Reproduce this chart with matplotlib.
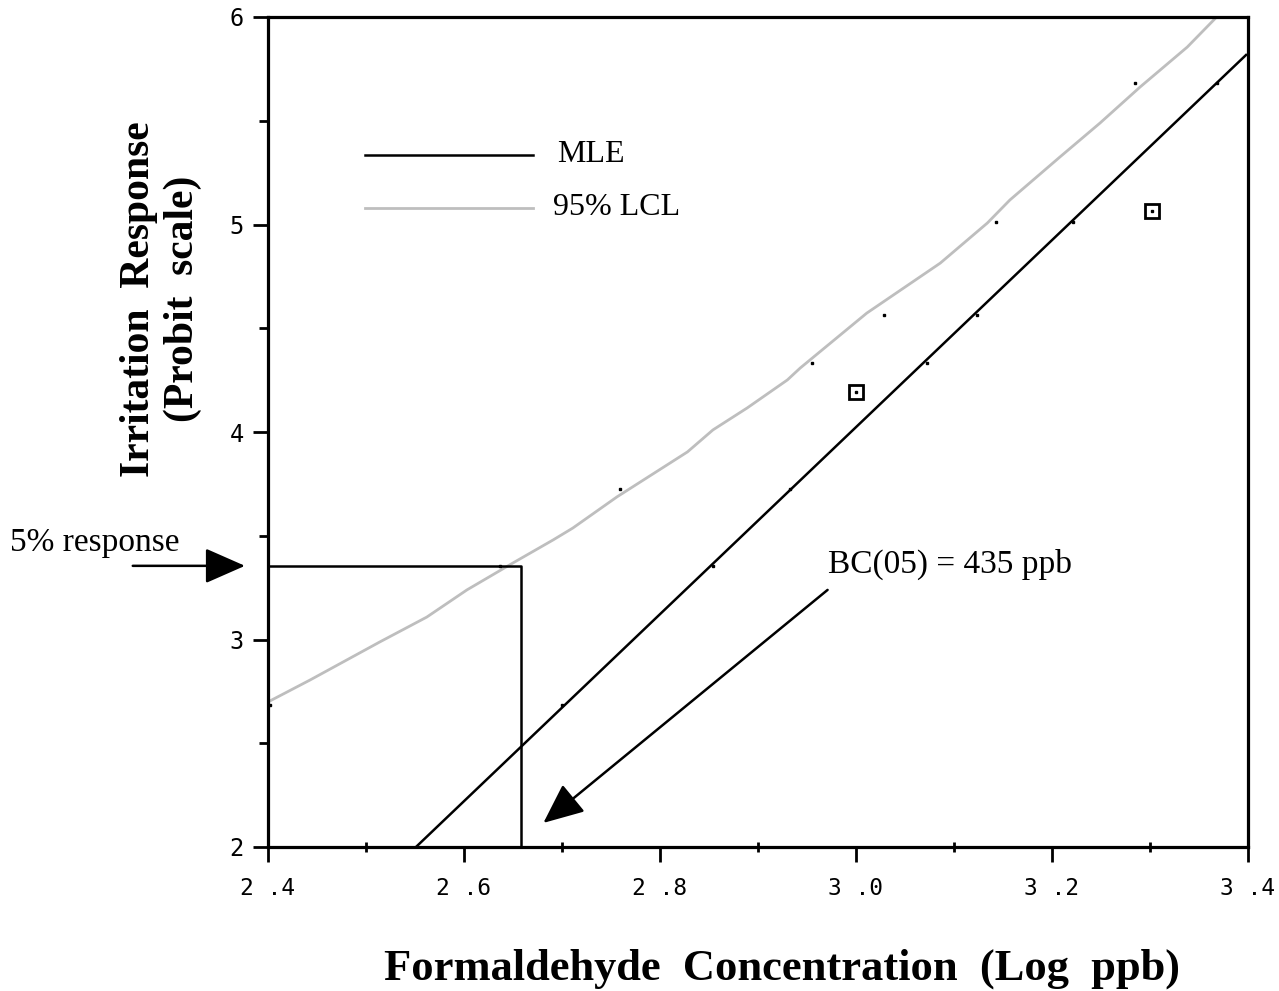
import numpy as np
import matplotlib.pyplot as plt
from matplotlib.ticker import FixedLocator

# --- data ---
mle_x = [2.551, 3.398]
mle_y = [2.0, 5.817]

lcl_x = [2.400, 2.443, 2.514, 2.562, 2.603, 2.650, 2.691, 2.711, 2.756, 2.828, 2.854,
         2.889, 2.930, 2.943, 3.011, 3.086, 3.134, 3.157, 3.208, 3.249, 3.290, 3.338, 3.368]
lcl_y = [2.699, 2.805, 2.988, 3.108, 3.239, 3.369, 3.480, 3.537, 3.687, 3.904, 4.010,
         4.116, 4.251, 4.308, 4.573, 4.814, 5.007, 5.118, 5.325, 5.489, 5.663, 5.855, 6.000]

obs_x = [3.000, 3.302]
obs_y = [4.193, 5.065]

# small dots (pairs on LCL / MLE at the same response level)
dot_x = [2.402, 2.700, 2.637, 2.854, 2.759, 2.933, 2.955, 3.072, 3.029, 3.123, 3.143, 3.221, 3.285, 3.368]
dot_y = [2.684, 2.684, 3.354, 3.354, 3.725, 3.725, 4.333, 4.333, 4.564, 4.564, 5.012, 5.012, 5.682, 5.682]

resp5_y = 3.355       # probit of 5% response
bc05_x = 2.658        # log ppb at BC(05)

x_ticks = [2.4, 2.6, 2.8, 3.0, 3.2, 3.4]
x_labels = ['2 .4', '2 .6', '2 .8', '3 .0', '3 .2', '3 .4']
x_minor = [2.5, 2.7, 2.9, 3.1, 3.3]
y_ticks = [2, 3, 4, 5, 6]
y_minor = [2.5, 3.5, 4.5, 5.5]

serif = 'Liberation Serif'
mono = 'DejaVu Sans Mono'

fig = plt.figure(figsize=(12.79, 9.91), dpi=100)
ax = fig.add_axes([268/1279, 1-847/991, 980/1279, 830/991])

ax.plot(lcl_x, lcl_y, color='#bebebe', lw=2.0, zorder=2, solid_joinstyle='round')
ax.plot(mle_x, mle_y, color='black', lw=1.8, zorder=3)
ax.plot(dot_x, dot_y, 's', color='black', ms=2.0, zorder=4)
ax.plot(obs_x, obs_y, 's', mfc='none', mec='black', mew=2.0, ms=10, zorder=4)
ax.plot(obs_x, obs_y, 's', color='black', ms=2.0, zorder=5)

# 5% response box
ax.plot([2.4, bc05_x, bc05_x], [resp5_y, resp5_y, 2.0], color='black', lw=1.8, zorder=3)

ax.set_xlim(2.4, 3.4)
ax.set_ylim(2, 6)

for s in ax.spines.values():
    s.set_linewidth(2.3)

ax.set_xticks(x_ticks)
ax.set_xticklabels(x_labels, fontfamily=mono, fontsize=16.5)
ax.xaxis.set_minor_locator(FixedLocator(x_minor))
ax.set_yticks(y_ticks)
ax.set_yticklabels([str(v) for v in y_ticks], fontfamily=mono, fontsize=17)
ax.yaxis.set_minor_locator(FixedLocator(y_minor))
ax.tick_params(axis='x', which='major', direction='out', length=10.5, width=2, pad=11)
ax.tick_params(axis='x', which='minor', direction='inout', length=7.5, width=2)
ax.tick_params(axis='y', which='major', direction='out', length=10.5, width=2, pad=7)
ax.tick_params(axis='y', which='minor', direction='out', length=6.5, width=2)

# legend drawn by hand
ax.plot([0.099, 0.270], [0.834, 0.834], transform=ax.transAxes, color='black', lw=1.8)
ax.plot([0.099, 0.270], [0.770, 0.770], transform=ax.transAxes, color='#bebebe', lw=2.0)
ax.text(0.295, 0.834, 'MLE', transform=ax.transAxes, fontfamily=serif, fontsize=23, va='center')
ax.text(0.291, 0.770, '95% LCL', transform=ax.transAxes, fontfamily=serif, fontsize=23, va='center')

# annotations
ax.text(2.971, 3.36, 'BC(05) = 435 ppb', fontfamily=serif, fontsize=24, va='center', ha='left')
ax.annotate('', xy=(2.681, 2.116), xytext=(2.971, 3.239),
            arrowprops=dict(arrowstyle='-|>,head_length=1.25,head_width=0.55', mutation_scale=20,
                            color='black', lw=1.8, shrinkA=0, shrinkB=0))
ax.text(2.137, 3.468, '5% response', fontfamily=serif, fontsize=24, va='center', ha='left',
        clip_on=False)
ax.annotate('', xy=(2.3765, resp5_y), xytext=(2.262, resp5_y), annotation_clip=False,
            arrowprops=dict(arrowstyle='-|>,head_length=1.25,head_width=0.55', mutation_scale=20,
                            color='black', lw=1.8, shrinkA=0, shrinkB=0))

fig.text(782/1279, 1-969/991, 'Formaldehyde  Concentration  (Log  ppb)', fontfamily=serif,
         fontweight='bold', fontsize=32, ha='center', va='center')
fig.text(161/1279, 1-299/991, 'Irritation  Response\n(Probit  scale)', fontfamily=serif,
         fontweight='bold', fontsize=30, ha='center', va='center', rotation=90,
         linespacing=1.2, multialignment='center')

fig.savefig('out.png', dpi=100)
